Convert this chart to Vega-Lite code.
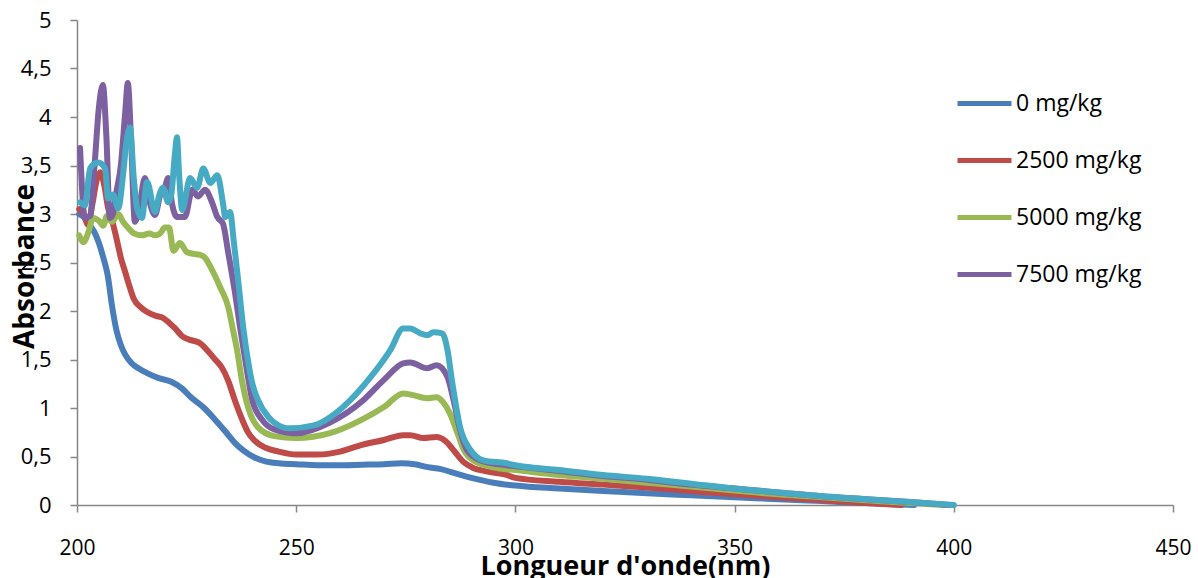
{
  "$schema": "https://vega.github.io/schema/vega-lite/v6.json",
  "width": 1096,
  "height": 485,
  "autosize": "none",
  "padding": {"left": 77, "top": 20, "right": 25, "bottom": 73},
  "background": "white",
  "config": {
    "view": {"stroke": null},
    "font": "Open Sans",
    "axis": {"grid": false, "domainColor": "#868686", "tickColor": "#868686", "domainWidth": 1.5, "tickWidth": 1.5, "tickSize": 7, "labelColor": "#000000", "titleColor": "#000000", "labelFont": "Open Sans", "titleFont": "Open Sans", "labelFlush": false}
  },
  "datasets": {
    "spec": [
      {"s":"0 mg/kg","x":200.5,"y":3.0},{"s":"0 mg/kg","x":201.5,"y":2.97},{"s":"0 mg/kg","x":203,"y":2.88},{"s":"0 mg/kg","x":204,"y":2.81},{"s":"0 mg/kg","x":205,"y":2.7},{"s":"0 mg/kg","x":206,"y":2.55},{"s":"0 mg/kg","x":207,"y":2.37},{"s":"0 mg/kg","x":208,"y":2.05},{"s":"0 mg/kg","x":209,"y":1.8},{"s":"0 mg/kg","x":210,"y":1.65},{"s":"0 mg/kg","x":211,"y":1.55},{"s":"0 mg/kg","x":212.5,"y":1.46},{"s":"0 mg/kg","x":214,"y":1.41},{"s":"0 mg/kg","x":216,"y":1.36},{"s":"0 mg/kg","x":218.5,"y":1.31},{"s":"0 mg/kg","x":221.5,"y":1.27},{"s":"0 mg/kg","x":224,"y":1.2},{"s":"0 mg/kg","x":226,"y":1.11},{"s":"0 mg/kg","x":229,"y":1.0},{"s":"0 mg/kg","x":231.5,"y":0.88},{"s":"0 mg/kg","x":234,"y":0.75},{"s":"0 mg/kg","x":236,"y":0.64},{"s":"0 mg/kg","x":238,"y":0.56},{"s":"0 mg/kg","x":240.5,"y":0.49},{"s":"0 mg/kg","x":243,"y":0.45},{"s":"0 mg/kg","x":246,"y":0.43},{"s":"0 mg/kg","x":250,"y":0.42},{"s":"0 mg/kg","x":255,"y":0.41},{"s":"0 mg/kg","x":260,"y":0.41},{"s":"0 mg/kg","x":265,"y":0.415},{"s":"0 mg/kg","x":270,"y":0.42},{"s":"0 mg/kg","x":274,"y":0.43},{"s":"0 mg/kg","x":277,"y":0.42},{"s":"0 mg/kg","x":280,"y":0.39},{"s":"0 mg/kg","x":283,"y":0.37},{"s":"0 mg/kg","x":286,"y":0.33},{"s":"0 mg/kg","x":290,"y":0.28},{"s":"0 mg/kg","x":295,"y":0.23},{"s":"0 mg/kg","x":300,"y":0.2},{"s":"0 mg/kg","x":310,"y":0.17},{"s":"0 mg/kg","x":320,"y":0.145},{"s":"0 mg/kg","x":330,"y":0.12},{"s":"0 mg/kg","x":340,"y":0.1},{"s":"0 mg/kg","x":350,"y":0.08},{"s":"0 mg/kg","x":360,"y":0.06},{"s":"0 mg/kg","x":370,"y":0.04},{"s":"0 mg/kg","x":380,"y":0.02},{"s":"0 mg/kg","x":391,"y":0.0},

      {"s":"2500 mg/kg","x":200.5,"y":3.05},{"s":"2500 mg/kg","x":201.5,"y":3.0},{"s":"2500 mg/kg","x":202.5,"y":2.89},{"s":"2500 mg/kg","x":203.5,"y":3.1},{"s":"2500 mg/kg","x":204.5,"y":3.35},{"s":"2500 mg/kg","x":205.3,"y":3.43},{"s":"2500 mg/kg","x":206.2,"y":3.3},{"s":"2500 mg/kg","x":207.1,"y":3.06},{"s":"2500 mg/kg","x":208.2,"y":2.9},{"s":"2500 mg/kg","x":209,"y":2.75},{"s":"2500 mg/kg","x":210,"y":2.55},{"s":"2500 mg/kg","x":211,"y":2.4},{"s":"2500 mg/kg","x":212,"y":2.25},{"s":"2500 mg/kg","x":213,"y":2.12},{"s":"2500 mg/kg","x":214.5,"y":2.04},{"s":"2500 mg/kg","x":216,"y":1.99},{"s":"2500 mg/kg","x":218,"y":1.95},{"s":"2500 mg/kg","x":219.6,"y":1.93},{"s":"2500 mg/kg","x":221,"y":1.88},{"s":"2500 mg/kg","x":222.4,"y":1.82},{"s":"2500 mg/kg","x":224,"y":1.74},{"s":"2500 mg/kg","x":226,"y":1.7},{"s":"2500 mg/kg","x":228,"y":1.67},{"s":"2500 mg/kg","x":230,"y":1.58},{"s":"2500 mg/kg","x":231.5,"y":1.5},{"s":"2500 mg/kg","x":233,"y":1.42},{"s":"2500 mg/kg","x":234.5,"y":1.28},{"s":"2500 mg/kg","x":236,"y":1.08},{"s":"2500 mg/kg","x":237.5,"y":0.9},{"s":"2500 mg/kg","x":239,"y":0.75},{"s":"2500 mg/kg","x":240.6,"y":0.66},{"s":"2500 mg/kg","x":243,"y":0.59},{"s":"2500 mg/kg","x":246,"y":0.55},{"s":"2500 mg/kg","x":250,"y":0.52},{"s":"2500 mg/kg","x":255,"y":0.52},{"s":"2500 mg/kg","x":260,"y":0.55},{"s":"2500 mg/kg","x":265,"y":0.62},{"s":"2500 mg/kg","x":270,"y":0.67},{"s":"2500 mg/kg","x":274.4,"y":0.72},{"s":"2500 mg/kg","x":276,"y":0.72},{"s":"2500 mg/kg","x":279,"y":0.69},{"s":"2500 mg/kg","x":282,"y":0.7},{"s":"2500 mg/kg","x":284,"y":0.66},{"s":"2500 mg/kg","x":286,"y":0.56},{"s":"2500 mg/kg","x":288,"y":0.45},{"s":"2500 mg/kg","x":290.5,"y":0.38},{"s":"2500 mg/kg","x":293,"y":0.35},{"s":"2500 mg/kg","x":298,"y":0.31},{"s":"2500 mg/kg","x":300,"y":0.28},{"s":"2500 mg/kg","x":310,"y":0.24},{"s":"2500 mg/kg","x":320,"y":0.21},{"s":"2500 mg/kg","x":330,"y":0.18},{"s":"2500 mg/kg","x":340,"y":0.145},{"s":"2500 mg/kg","x":350,"y":0.11},{"s":"2500 mg/kg","x":360,"y":0.08},{"s":"2500 mg/kg","x":370,"y":0.05},{"s":"2500 mg/kg","x":380,"y":0.02},{"s":"2500 mg/kg","x":388,"y":0.0},

      {"s":"5000 mg/kg","x":200.5,"y":2.78},{"s":"5000 mg/kg","x":201.5,"y":2.71},{"s":"5000 mg/kg","x":202.5,"y":2.8},{"s":"5000 mg/kg","x":203.7,"y":2.96},{"s":"5000 mg/kg","x":205,"y":2.93},{"s":"5000 mg/kg","x":206,"y":2.88},{"s":"5000 mg/kg","x":206.8,"y":2.98},{"s":"5000 mg/kg","x":208,"y":2.92},{"s":"5000 mg/kg","x":209.4,"y":3.0},{"s":"5000 mg/kg","x":210.5,"y":2.92},{"s":"5000 mg/kg","x":211.6,"y":2.86},{"s":"5000 mg/kg","x":213,"y":2.8},{"s":"5000 mg/kg","x":214.8,"y":2.78},{"s":"5000 mg/kg","x":216.5,"y":2.8},{"s":"5000 mg/kg","x":217.8,"y":2.78},{"s":"5000 mg/kg","x":219,"y":2.8},{"s":"5000 mg/kg","x":220,"y":2.86},{"s":"5000 mg/kg","x":221,"y":2.86},{"s":"5000 mg/kg","x":222,"y":2.62},{"s":"5000 mg/kg","x":223.5,"y":2.7},{"s":"5000 mg/kg","x":225,"y":2.61},{"s":"5000 mg/kg","x":226.5,"y":2.59},{"s":"5000 mg/kg","x":228,"y":2.58},{"s":"5000 mg/kg","x":229.2,"y":2.55},{"s":"5000 mg/kg","x":230.4,"y":2.46},{"s":"5000 mg/kg","x":231.5,"y":2.36},{"s":"5000 mg/kg","x":232.6,"y":2.25},{"s":"5000 mg/kg","x":234.5,"y":2.04},{"s":"5000 mg/kg","x":235.6,"y":1.8},{"s":"5000 mg/kg","x":236.5,"y":1.6},{"s":"5000 mg/kg","x":237.6,"y":1.29},{"s":"5000 mg/kg","x":239,"y":1.01},{"s":"5000 mg/kg","x":241.3,"y":0.8},{"s":"5000 mg/kg","x":245,"y":0.71},{"s":"5000 mg/kg","x":250,"y":0.69},{"s":"5000 mg/kg","x":257.7,"y":0.74},{"s":"5000 mg/kg","x":265,"y":0.88},{"s":"5000 mg/kg","x":270,"y":1.01},{"s":"5000 mg/kg","x":274.4,"y":1.15},{"s":"5000 mg/kg","x":276,"y":1.14},{"s":"5000 mg/kg","x":279.9,"y":1.1},{"s":"5000 mg/kg","x":282,"y":1.11},{"s":"5000 mg/kg","x":283.5,"y":1.06},{"s":"5000 mg/kg","x":285,"y":0.95},{"s":"5000 mg/kg","x":286.8,"y":0.74},{"s":"5000 mg/kg","x":288.2,"y":0.57},{"s":"5000 mg/kg","x":290.4,"y":0.46},{"s":"5000 mg/kg","x":295.9,"y":0.38},{"s":"5000 mg/kg","x":300,"y":0.36},{"s":"5000 mg/kg","x":310,"y":0.31},{"s":"5000 mg/kg","x":320,"y":0.27},{"s":"5000 mg/kg","x":330,"y":0.23},{"s":"5000 mg/kg","x":340,"y":0.19},{"s":"5000 mg/kg","x":350,"y":0.15},{"s":"5000 mg/kg","x":360,"y":0.11},{"s":"5000 mg/kg","x":370,"y":0.08},{"s":"5000 mg/kg","x":380,"y":0.05},{"s":"5000 mg/kg","x":390,"y":0.02},{"s":"5000 mg/kg","x":398,"y":0.0},

      {"s":"7500 mg/kg","x":200.7,"y":3.68},{"s":"7500 mg/kg","x":201.8,"y":2.96},{"s":"7500 mg/kg","x":203,"y":2.98},{"s":"7500 mg/kg","x":204,"y":3.5},{"s":"7500 mg/kg","x":205,"y":4.1},{"s":"7500 mg/kg","x":205.9,"y":4.33},{"s":"7500 mg/kg","x":206.7,"y":3.8},{"s":"7500 mg/kg","x":207.5,"y":2.96},{"s":"7500 mg/kg","x":208.2,"y":3.0},{"s":"7500 mg/kg","x":209,"y":3.23},{"s":"7500 mg/kg","x":210,"y":3.5},{"s":"7500 mg/kg","x":211,"y":4.05},{"s":"7500 mg/kg","x":211.6,"y":4.35},{"s":"7500 mg/kg","x":212.3,"y":3.8},{"s":"7500 mg/kg","x":213.2,"y":2.92},{"s":"7500 mg/kg","x":214.3,"y":3.1},{"s":"7500 mg/kg","x":215.5,"y":3.37},{"s":"7500 mg/kg","x":216.7,"y":3.1},{"s":"7500 mg/kg","x":217.8,"y":2.99},{"s":"7500 mg/kg","x":219,"y":3.2},{"s":"7500 mg/kg","x":220,"y":3.27},{"s":"7500 mg/kg","x":220.8,"y":3.37},{"s":"7500 mg/kg","x":221.7,"y":3.1},{"s":"7500 mg/kg","x":222.8,"y":2.97},{"s":"7500 mg/kg","x":224.6,"y":2.97},{"s":"7500 mg/kg","x":226.3,"y":3.25},{"s":"7500 mg/kg","x":227.6,"y":3.18},{"s":"7500 mg/kg","x":229.2,"y":3.25},{"s":"7500 mg/kg","x":230.8,"y":3.12},{"s":"7500 mg/kg","x":232,"y":2.97},{"s":"7500 mg/kg","x":233.3,"y":2.9},{"s":"7500 mg/kg","x":234.5,"y":2.6},{"s":"7500 mg/kg","x":236,"y":2.2},{"s":"7500 mg/kg","x":237.3,"y":1.8},{"s":"7500 mg/kg","x":238.4,"y":1.49},{"s":"7500 mg/kg","x":240,"y":1.08},{"s":"7500 mg/kg","x":242.2,"y":0.88},{"s":"7500 mg/kg","x":245,"y":0.78},{"s":"7500 mg/kg","x":250,"y":0.74},{"s":"7500 mg/kg","x":257.7,"y":0.85},{"s":"7500 mg/kg","x":265.3,"y":1.08},{"s":"7500 mg/kg","x":270,"y":1.29},{"s":"7500 mg/kg","x":274.4,"y":1.46},{"s":"7500 mg/kg","x":276,"y":1.47},{"s":"7500 mg/kg","x":279.9,"y":1.41},{"s":"7500 mg/kg","x":282,"y":1.44},{"s":"7500 mg/kg","x":284.5,"y":1.32},{"s":"7500 mg/kg","x":285.9,"y":1.08},{"s":"7500 mg/kg","x":287.4,"y":0.77},{"s":"7500 mg/kg","x":288.9,"y":0.57},{"s":"7500 mg/kg","x":292,"y":0.46},{"s":"7500 mg/kg","x":298,"y":0.41},{"s":"7500 mg/kg","x":300,"y":0.4},{"s":"7500 mg/kg","x":310,"y":0.35},{"s":"7500 mg/kg","x":320,"y":0.3},{"s":"7500 mg/kg","x":330,"y":0.26},{"s":"7500 mg/kg","x":340,"y":0.21},{"s":"7500 mg/kg","x":350,"y":0.17},{"s":"7500 mg/kg","x":360,"y":0.13},{"s":"7500 mg/kg","x":370,"y":0.09},{"s":"7500 mg/kg","x":380,"y":0.06},{"s":"7500 mg/kg","x":390,"y":0.03},{"s":"7500 mg/kg","x":399,"y":0.0},

      {"s":"10000 mg/kg","x":200.7,"y":3.12},{"s":"10000 mg/kg","x":201.8,"y":3.09},{"s":"10000 mg/kg","x":203,"y":3.47},{"s":"10000 mg/kg","x":204.8,"y":3.53},{"s":"10000 mg/kg","x":206.4,"y":3.47},{"s":"10000 mg/kg","x":207.1,"y":3.16},{"s":"10000 mg/kg","x":208.2,"y":3.2},{"s":"10000 mg/kg","x":209.4,"y":3.06},{"s":"10000 mg/kg","x":210.5,"y":3.4},{"s":"10000 mg/kg","x":211.3,"y":3.75},{"s":"10000 mg/kg","x":212.1,"y":3.89},{"s":"10000 mg/kg","x":212.9,"y":3.4},{"s":"10000 mg/kg","x":213.7,"y":3.06},{"s":"10000 mg/kg","x":214.8,"y":2.96},{"s":"10000 mg/kg","x":216,"y":3.33},{"s":"10000 mg/kg","x":217.8,"y":3.02},{"s":"10000 mg/kg","x":218.8,"y":3.2},{"s":"10000 mg/kg","x":219.6,"y":3.27},{"s":"10000 mg/kg","x":220.8,"y":3.12},{"s":"10000 mg/kg","x":221.5,"y":3.2},{"s":"10000 mg/kg","x":222.3,"y":3.6},{"s":"10000 mg/kg","x":222.8,"y":3.79},{"s":"10000 mg/kg","x":223.3,"y":3.4},{"s":"10000 mg/kg","x":224,"y":3.04},{"s":"10000 mg/kg","x":225.8,"y":3.37},{"s":"10000 mg/kg","x":227.4,"y":3.27},{"s":"10000 mg/kg","x":228.8,"y":3.47},{"s":"10000 mg/kg","x":230.4,"y":3.32},{"s":"10000 mg/kg","x":232,"y":3.4},{"s":"10000 mg/kg","x":233.3,"y":3.11},{"s":"10000 mg/kg","x":233.8,"y":2.97},{"s":"10000 mg/kg","x":234.9,"y":3.02},{"s":"10000 mg/kg","x":235.8,"y":2.7},{"s":"10000 mg/kg","x":236.8,"y":2.3},{"s":"10000 mg/kg","x":238,"y":1.8},{"s":"10000 mg/kg","x":239,"y":1.49},{"s":"10000 mg/kg","x":240,"y":1.25},{"s":"10000 mg/kg","x":241.3,"y":1.08},{"s":"10000 mg/kg","x":243.6,"y":0.91},{"s":"10000 mg/kg","x":245,"y":0.85},{"s":"10000 mg/kg","x":248.6,"y":0.79},{"s":"10000 mg/kg","x":254,"y":0.82},{"s":"10000 mg/kg","x":260.7,"y":1.01},{"s":"10000 mg/kg","x":267,"y":1.32},{"s":"10000 mg/kg","x":271.5,"y":1.6},{"s":"10000 mg/kg","x":274.4,"y":1.82},{"s":"10000 mg/kg","x":276,"y":1.82},{"s":"10000 mg/kg","x":278.3,"y":1.77},{"s":"10000 mg/kg","x":279.9,"y":1.75},{"s":"10000 mg/kg","x":281.3,"y":1.78},{"s":"10000 mg/kg","x":283.3,"y":1.77},{"s":"10000 mg/kg","x":284.5,"y":1.6},{"s":"10000 mg/kg","x":285.6,"y":1.26},{"s":"10000 mg/kg","x":287.4,"y":0.8},{"s":"10000 mg/kg","x":289.7,"y":0.57},{"s":"10000 mg/kg","x":292.7,"y":0.46},{"s":"10000 mg/kg","x":298,"y":0.43},{"s":"10000 mg/kg","x":300,"y":0.41},{"s":"10000 mg/kg","x":310,"y":0.36},{"s":"10000 mg/kg","x":320,"y":0.31},{"s":"10000 mg/kg","x":330,"y":0.27},{"s":"10000 mg/kg","x":340,"y":0.22},{"s":"10000 mg/kg","x":350,"y":0.17},{"s":"10000 mg/kg","x":360,"y":0.13},{"s":"10000 mg/kg","x":370,"y":0.09},{"s":"10000 mg/kg","x":380,"y":0.06},{"s":"10000 mg/kg","x":390,"y":0.03},{"s":"10000 mg/kg","x":400,"y":0.0}
    ]
  },
  "data": {"name": "spec"},
  "mark": {"type": "line", "strokeWidth": 6, "interpolate": "monotone", "strokeCap": "round", "strokeJoin": "round"},
  "encoding": {
    "x": {
      "field": "x", "type": "quantitative",
      "scale": {"domain": [200, 450], "nice": false, "zero": false},
      "axis": {"values": [200, 250, 300, 350, 400, 450], "labelFontSize": 21, "labelPadding": 25, "title": "Longueur d'onde(nm)", "titleFontSize": 27, "titleFontWeight": "bold", "titleX": 548, "titleY": 69, "titleBaseline": "alphabetic", "titleAnchor": null, "titleAlign": "center"}
    },
    "y": {
      "field": "y", "type": "quantitative",
      "scale": {"domain": [0, 5], "nice": false},
      "axis": {"values": [0, 0.5, 1, 1.5, 2, 2.5, 3, 3.5, 4, 4.5, 5], "labelExpr": "replace(format(datum.value, '.1~f'), '.', ',')", "labelFontSize": 22, "labelPadding": 19, "title": "Absorbance", "titleFontSize": 28, "titleFontWeight": "bold", "titleAngle": 270, "titleX": -52, "titleY": 246, "titleAlign": "center", "titleBaseline": "middle", "titleAnchor": null}
    },
    "color": {
      "field": "s", "type": "nominal",
      "scale": {"domain": ["0 mg/kg", "2500 mg/kg", "5000 mg/kg", "7500 mg/kg", "10000 mg/kg"], "range": ["#4A7EBB", "#BE4B48", "#98B954", "#7D60A0", "#46AAC5"]},
      "sort": null,
      "legend": {"values": ["0 mg/kg", "2500 mg/kg", "5000 mg/kg", "7500 mg/kg"], "title": null, "orient": "none", "legendX": 878, "legendY": 54, "padding": 0, "symbolType": "stroke", "symbolSize": 2916, "symbolStrokeWidth": 5, "labelFontSize": 23, "labelOffset": 2, "rowPadding": 15, "labelColor": "#000000"}
    }
  }
}
